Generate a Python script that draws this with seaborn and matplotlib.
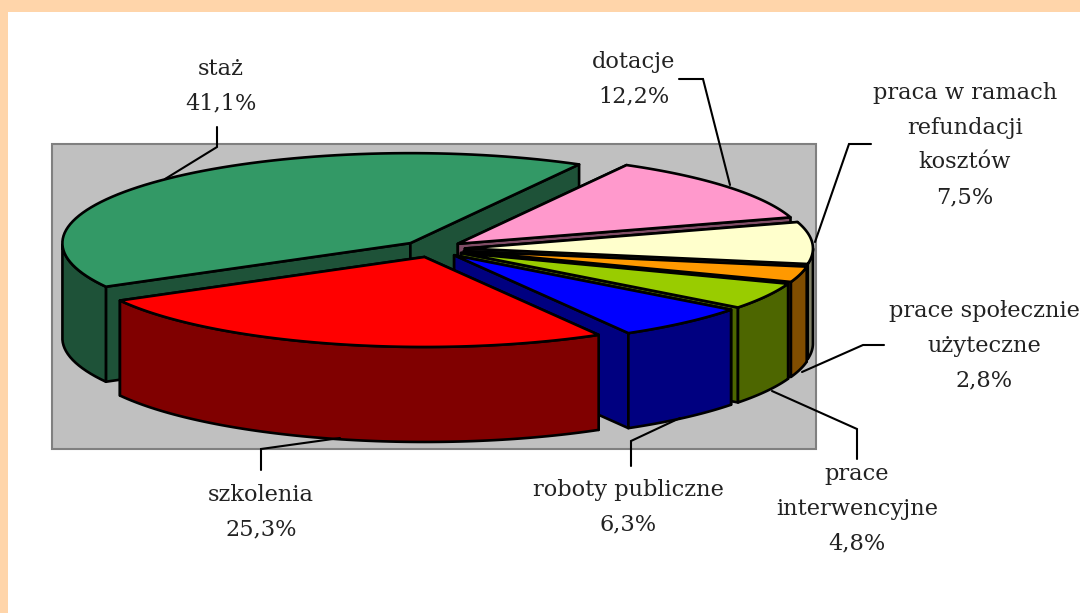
import numpy as np
import pandas as pd
import seaborn as sns
import matplotlib.pyplot as plt
from matplotlib.patches import Rectangle

# order is clockwise starting from the top edge of "staż"
names = ['dotacje', 'praca w ramach\nrefundacji\nkosztów', 'prace społecznie\nużyteczne',
         'prace\ninterwencyjne', 'roboty publiczne', 'szkolenia', 'staż']
shares = [12.2, 7.5, 2.8, 4.8, 6.3, 25.3, 41.1]
top_colors = ['#FF99CC', '#FFFFCC', '#FF9900', '#99CC00', '#0000FF', '#FF0000', '#339966']
side_colors = ['#804D66', '#808066', '#804D00', '#4D6600', '#000080', '#800000', '#1E5238']

# label centre (x, y of first line) and leader line, in pixels
label_pos = [(634, 62), (965, 93), (984, 311), (857, 474), (628, 490), (261, 495), (221, 69)]
leaders = [
    [(679, 79), (703, 79), (730, 185)],
    [(871, 144), (849, 144), (815, 242)],
    [(884, 345), (863, 345), (802, 372)],
    [(857, 459), (857, 429), (772, 391)],
    [(631, 466), (631, 441), (680, 418)],
    [(261, 470), (261, 449), (340, 438)],
    [(217, 127), (217, 147), (165, 179)],
]

START = 61.0
CX, CY = 433, 249
RX, RY = 348, 90
DEPTH = 95
EXPLODE = 32

sns.set_theme(style='white')
plt.rcParams['font.family'] = ['DejaVu Serif']

df = pd.DataFrame({'name': names, 'share': shares, 'top': top_colors, 'side': side_colors})
df['sweep'] = df['share'] / df['share'].sum() * 360
df['a0'] = START - df['sweep'].cumsum().shift(fill_value=0)
df['a1'] = df['a0'] - df['sweep']

fig = plt.figure(figsize=(10.8, 6.13), dpi=100)
ax = fig.add_axes([0, 0, 1, 1])
ax.set_xlim(0, 1080)
ax.set_ylim(613, 0)
ax.axis('off')

ax.add_patch(Rectangle((0, 0), 1080, 613, fc='#FFD5AA', ec='none', zorder=0))
ax.add_patch(Rectangle((8, 12), 1072, 601, fc='white', ec='none', zorder=0))
ax.add_patch(Rectangle((52, 144), 764, 305, fc='#C0C0C0', ec='#808080', lw=1.5, zorder=0))

line = dict(ec='black', lw=1.9, joinstyle='round')


def edge(x0, y0, a):
    return x0 + RX * np.cos(np.radians(a)), y0 - RY * np.sin(np.radians(a))


# back to front: staż first, then the rest from the top down
for z, i in enumerate([6, 0, 1, 2, 3, 4, 5]):
    s = df.iloc[i]
    mid = (s.a0 + s.a1) / 2
    x0 = CX + EXPLODE * np.cos(np.radians(mid))
    y0 = CY - EXPLODE * RY / RX * np.sin(np.radians(mid))
    angles = np.linspace(s.a0, s.a1, 80)
    ex, ey = edge(x0, y0, angles)

    # cut faces
    for k in (0, -1):
        ax.fill([x0, ex[k], ex[k], x0], [y0, ey[k], ey[k] + DEPTH, y0 + DEPTH],
                fc=s.side, zorder=2 + z, **line)
    # outer wall, only the front half shows
    front = np.sin(np.radians(angles)) <= 0
    if front.any():
        wx, wy = ex[front], ey[front]
        ax.fill(np.r_[wx, wx[::-1]], np.r_[wy, wy[::-1] + DEPTH], fc=s.side, zorder=2 + z, **line)
    # top
    ax.fill(np.r_[x0, ex], np.r_[y0, ey], fc=s.top, zorder=2 + z, **line)

for s, pos, pts in zip(df.itertuples(), label_pos, leaders):
    xs, ys = zip(*pts)
    ax.plot(xs, ys, color='black', lw=1.5, zorder=20, solid_joinstyle='miter')
    ax.text(pos[0], pos[1] - 11, f'{s.name}\n{s.share:.1f}%'.replace('.', ','), ha='center', va='top',
            fontsize=16.2, color='#222222', linespacing=1.75, zorder=21)

fig.savefig('out.png', dpi=100)
